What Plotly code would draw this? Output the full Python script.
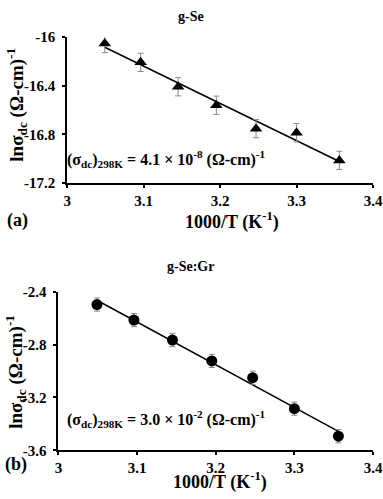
import numpy as np
import plotly.graph_objects as go

# 1000/T values (K^-1)
inv_t = [3.049, 3.096, 3.145, 3.195, 3.247, 3.300, 3.356]

# g-Se
ln_sigma_se = [-16.053, -16.208, -16.408, -16.560, -16.752, -16.786, -17.013]
err_se = [0.075, 0.075, 0.075, 0.075, 0.075, 0.075, 0.075]

# g-Se:Gr
ln_sigma_gr = [-2.498, -2.615, -2.766, -2.924, -3.051, -3.285, -3.493]
err_gr = [0.05, 0.05, 0.05, 0.05, 0.05, 0.05, 0.05]

x_ticks = [3, 3.1, 3.2, 3.3, 3.4]
x_tick_text = ["3", "3.1", "3.2", "3.3", "3.4"]

FONT = "Liberation Serif"
W, H = 383, 499
R = 10  # right margin so "3.4" is not clipped

def fit_line(x, y):
    m, c = np.polyfit(x, y, 1)
    xs = [x[0], x[-1]]
    return xs, [m * v + c for v in xs]

fig = go.Figure()

# top panel
fx, fy = fit_line(inv_t, ln_sigma_se)
fig.add_trace(go.Scatter(x=fx, y=fy, mode="lines", line=dict(color="black", width=1.5),
                         xaxis="x", yaxis="y", showlegend=False))
fig.add_trace(go.Scatter(x=inv_t, y=ln_sigma_se, mode="markers",
                         marker=dict(symbol="triangle-up", size=11, color="black"),
                         error_y=dict(type="data", array=err_se, color="#8a8a8a", thickness=1, width=3),
                         xaxis="x", yaxis="y", showlegend=False, cliponaxis=False))

# bottom panel
fx, fy = fit_line(inv_t, ln_sigma_gr)
fig.add_trace(go.Scatter(x=fx, y=fy, mode="lines", line=dict(color="black", width=1.5),
                         xaxis="x2", yaxis="y2", showlegend=False))
fig.add_trace(go.Scatter(x=inv_t, y=ln_sigma_gr, mode="markers",
                         marker=dict(symbol="circle", size=11, color="black"),
                         error_y=dict(type="data", array=err_gr, color="#8a8a8a", thickness=1, width=3),
                         xaxis="x2", yaxis="y2", showlegend=False, cliponaxis=False))

axis_style = dict(showgrid=False, zeroline=False, showline=True, linecolor="black", linewidth=2,
                  ticks="outside", tickcolor="black", ticklen=3, tickwidth=1.5,
                  ticklabeloverflow="allow",
                  tickfont=dict(family=FONT, size=15, color="black", weight="bold"))

def px_x(p):
    return p / (W - R)

def px_y(p):
    return 1 - p / H

fig.update_layout(
    width=W, height=H,
    margin=dict(l=0, r=R, t=0, b=0),
    paper_bgcolor="white", plot_bgcolor="white",
    xaxis=dict(domain=[px_x(64), px_x(373)], range=[3, 3.4], tickvals=x_ticks,
               ticktext=x_tick_text, anchor="y", **axis_style),
    yaxis=dict(domain=[px_y(181), px_y(30)], range=[-17.2, -16], tickvals=[-17.2, -16.8, -16.4, -16],
               ticktext=["-17.2", "-16.8", "-16.4", "-16"], anchor="x", ticklabelstandoff=4, **axis_style),
    xaxis2=dict(domain=[px_x(55), px_x(373)], range=[3, 3.4], tickvals=x_ticks,
                ticktext=x_tick_text, anchor="y2", **axis_style),
    yaxis2=dict(domain=[px_y(457), px_y(293)], range=[-3.6, -2.4], tickvals=[-3.6, -3.2, -2.8, -2.4],
                ticktext=["-3.6", "-3.2", "-2.8", "-2.4"], anchor="x2", ticklabelstandoff=4, **axis_style),
)

def text(x, y, s, size, angle=0):
    fig.add_annotation(x=px_x(x), y=px_y(y), xref="paper", yref="paper", text=s, showarrow=False,
                       textangle=angle, font=dict(family=FONT, size=size, color="black"),
                       xanchor="center", yanchor="middle")

ytitle = "<b>lnσ<sub>dc</sub> (Ω-cm)<sup>-1</sup></b>"
xtitle = "<b>1000/T (K<sup>-1</sup>)</b>"

text(189, 9, "<b>g-Se</b>", 14)
text(13, 100, ytitle, 19, -90)
text(230, 220, xtitle, 18)
text(14, 220, "<b>(a)</b>", 18)
fig.add_annotation(x=px_x(62), y=px_y(156), xref="paper", yref="paper",
                   text="<b>(σ<sub>dc</sub>)<sub>298K</sub> = 4.1 × 10<sup>-8</sup> (Ω-cm)<sup>-1</sup></b>",
                   showarrow=False, xanchor="left", yanchor="middle",
                   font=dict(family=FONT, size=16, color="black"))

text(189, 267, "<b>g-Se:Gr</b>", 14)
text(12, 376, ytitle, 19, -90)
text(218, 489, xtitle, 18)
text(12, 472, "<b>(b)</b>", 18)
fig.add_annotation(x=px_x(62), y=px_y(425), xref="paper", yref="paper",
                   text="<b>(σ<sub>dc</sub>)<sub>298K</sub> = 3.0 × 10<sup>-2</sup> (Ω-cm)<sup>-1</sup></b>",
                   showarrow=False, xanchor="left", yanchor="middle",
                   font=dict(family=FONT, size=16, color="black"))

# drop the page's default body margin so the figure sits at the window's corner
fig.write_html("out.html", config={"displayModeBar": False},
               post_script="document.body.style.margin='0';")
